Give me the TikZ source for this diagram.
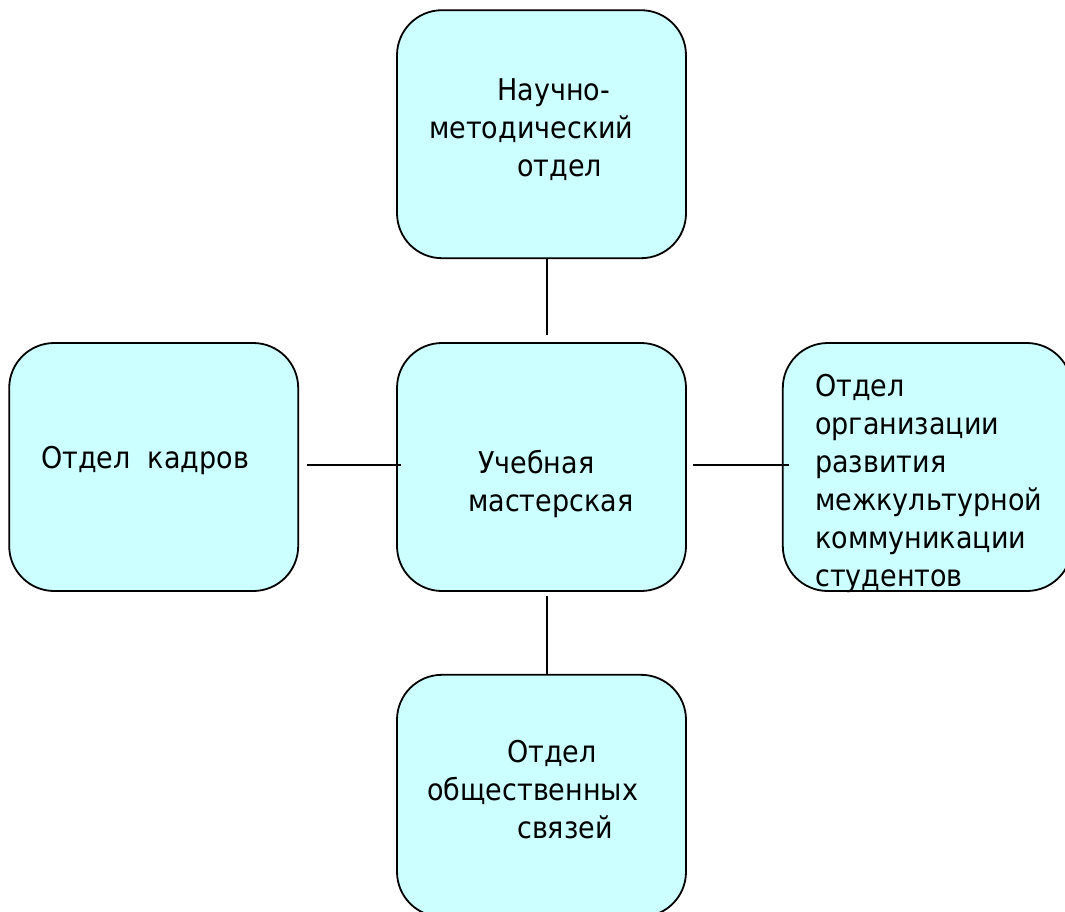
\documentclass[tikz,border=0pt]{standalone}
\usepackage{fontspec}
\setmainfont{DejaVu Sans}[FakeStretch=0.9]
\usetikzlibrary{positioning}
\definecolor{boxcyan}{HTML}{CCFFFF}
\tikzset{
  dept/.style={draw=black, line width=1.8pt, fill=boxcyan, rounded corners=45pt,
    minimum width=289pt, minimum height=248pt, inner sep=0pt},
  deptlabel/.style={anchor=north west, inner sep=0pt, align=left,
    font=\fontsize{30}{38}\selectfont},
  link/.style={line width=2pt}
}

\begin{document}
\begin{tikzpicture}[x=1pt,y=-1pt]
        \useasboundingbox (0,0) rectangle (1065,911);
        %\draw[help lines] (0,0) grid (1065,911);
        % boxes
        \node[dept] (uchm) at (541.5,467) {};
        \node[dept, above=83pt of uchm] (nauch) {};
        \node[dept, left=97pt of uchm] (kadry) {};
        \node[dept, right=95pt of uchm] (mkk) {};
        \node[dept, below=82pt of uchm, minimum height=242pt] (obsv) {};
        % links
        \draw[link] ([xshift=5.5pt]nauch.south) -- ([xshift=5.5pt,yshift=7pt]uchm.north);
        \draw[link] ([xshift=8pt,yshift=2pt]kadry.east) -- ([xshift=5pt,yshift=2pt]uchm.west);
        \draw[link] ([xshift=6pt,yshift=2pt]uchm.east) -- ([xshift=7pt,yshift=2pt]mkk.west);
        \draw[link] ([xshift=5.5pt,yshift=-4pt]uchm.south) -- ([xshift=5.5pt]obsv.north);
        % labels
        \node[deptlabel] (nauchtxt) at (429,78) {\hspace*{68pt}Научно-\\методический\\\hspace*{88pt}отдел};
        \node[deptlabel] (uchmtxt) at (468,450) {\hspace*{10pt}Учебная\\мастерская};
        \node[deptlabel] (kadrytxt) at (41,446) {Отдел\ \ кадров};
        \node[deptlabel] (mkktxt) at (815,374) {Отдел\\организации\\развития\\межкультурной\\коммуникации\\студентов};
        \node[deptlabel] (obsvtxt) at (427,740) {\hspace*{80pt}Отдел\\общественных\\\hspace*{90pt}связей};
\end{tikzpicture}
\end{document}
